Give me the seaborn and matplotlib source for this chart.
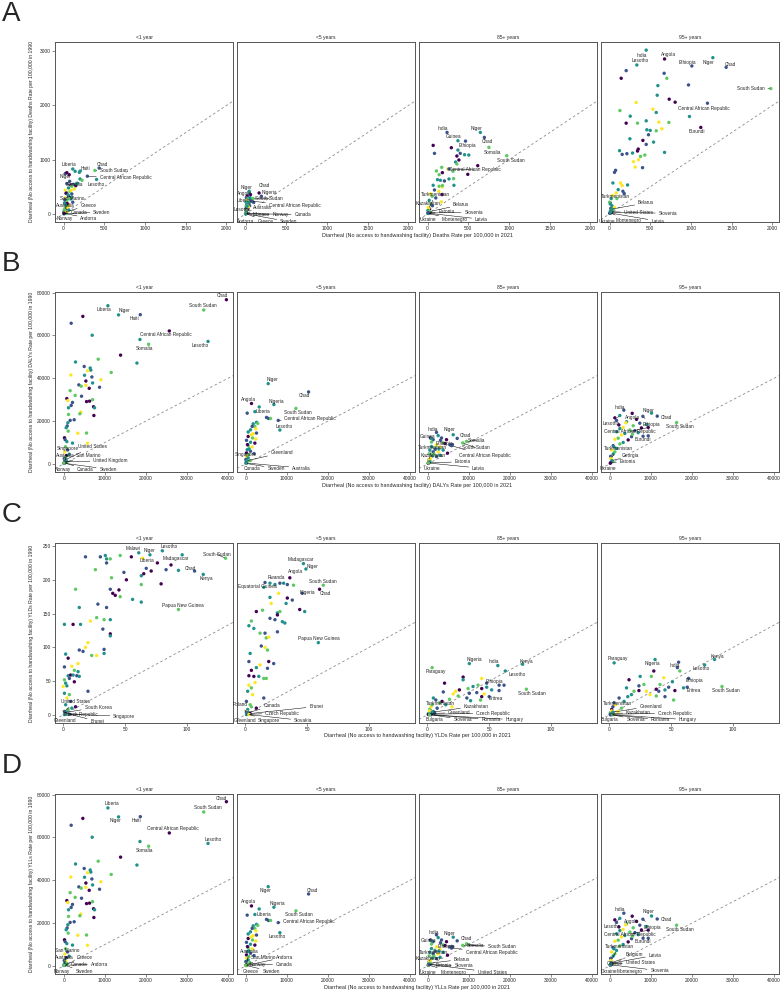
import numpy as np
import pandas as pd
import matplotlib
matplotlib.use('Agg')
import matplotlib.pyplot as plt
import seaborn as sns

ages = ["<1 year", "<5 years", "85+ years", "95+ years"]
measures = ["Deaths", "DALYs", "YLDs", "YLLs"]

# ---------------- A: deaths ----------------
a1_x = [20, 142, 194, 69, 202, 227, 170, 40, 89, 120, 101, 61, 130, 20, 81, 40, 101, 61, 20, 89,
        40, 113, 12, 61, 20, 150, 75, 30, 55, 90, 15, 45, 70, 100, 25, 35, 50, 10, 65, 20, 40, 5, 15, 30, 8, 3]
a1_y = [742, 785, 766, 723, 644, 619, 564, 558, 533, 545, 509, 478, 460, 435, 417, 386, 368, 325, 294, 276,
        245, 215, 202, 153, 110, 520, 600, 380, 350, 430, 260, 190, 280, 310, 160, 90, 120, 60, 70, 40, 30, 20, 12, 8, 5, 2]
a1_g = [1, 2, 2, 0, 2, 3, 2, 1, 0, 1, 3, 2, 4, 4, 3, 2, 1, 0, 4, 2,
        3, 1, 2, 4, 3, 0, 1, 0, 2, 4, 1, 0, 3, 2, 2, 1, 4, 3, 2, 1, 4, 2, 0, 3, 1, 2]
a1_lab = ["Chad", "Haiti", "Liberia", "South Sudan", "Central African Republic", "Niger", "Lesotho", "Somalia",
          "San Marino", "Australia", "Greece", "Canada", "Sweden", "Norway", "Andorra"]
a1_lx = [437, 205, 113, 385, 292, 40, 405, 160, 10, 6, 12, 4, 3, 2, 5]
a1_ly = [845, 790, 828, 800, 695, 760, 635, 560, 80, 40, 30, 12, 8, 5, 10]
a1_lg = [1, 2, 2, 3, 1, 0, 2, 2, 3, 2, 4, 1, 2, 3, 0]

a2_x = [45, 20, 10, 30, 60, 80, 15, 5, 25, 40, 12, 35, 50, 8, 18, 28, 3, 22, 14, 6, 2, 10, 4, 1, 70, 100, 55, 33]
a2_y = [380, 330, 300, 280, 260, 250, 240, 220, 200, 190, 170, 160, 150, 140, 120, 100, 90, 80, 60, 45,
        30, 25, 15, 8, 230, 210, 300, 130]
a2_g = [2, 0, 1, 3, 2, 1, 4, 2, 3, 0, 2, 4, 1, 3, 2, 4, 1, 0, 3, 2, 4, 1, 2, 0, 3, 1, 2, 4]
a2_lab = ["Niger", "Chad", "Angola", "Nigeria", "South Sudan", "Central African Republic", "Liberia", "Lesotho",
          "Australia", "Monaco", "Norway", "Canada", "Andorra", "Greece", "Sweden"]
a2_lx = [45, 166, 61, 194, 93, 73, 32, 20, 1, 2, 1, 2, 2, 1, 1]
a2_ly = [417, 386, 356, 325, 282, 233, 202, 141, 6, 4, 3, 5, 4, 8, 3]
a2_lg = [2, 0, 0, 1, 3, 1, 2, 2, 1, 2, 3, 0, 1, 4, 2]

a3_x = [69, 85, 292, 373, 401, 454, 506, 360, 385, 344, 360, 616, 174, 109, 182, 494, 142, 251, 312, 122,
        158, 263, 320, 207, 69, 142, 178, 182, 324, 85, 138, 178, 36, 57, 101, 170, 20, 40, 60, 10, 25, 5, 15, 30, 8]
a3_y = [1263, 1116, 1220, 1177, 1116, 1091, 1085, 1067, 993, 956, 920, 889, 858, 791, 760, 729, 723, 828, 785, 631,
        619, 644, 650, 607, 527, 509, 497, 521, 527, 441, 417, 356, 368, 325, 294, 221, 250, 180, 150, 120, 90, 60, 40, 20, 10]
a3_g = [0, 1, 0, 2, 1, 2, 2, 0, 0, 2, 3, 0, 3, 3, 0, 0, 3, 4, 3, 2,
        2, 2, 3, 1, 2, 3, 4, 3, 2, 1, 4, 0, 4, 3, 1, 4, 2, 3, 1, 4, 0, 2, 3, 1, 2]
a3_lab = ["India", "Niger", "Guinea", "Chad", "Ethiopia", "Somalia", "South Sudan", "Central African Republic",
          "Turkmenistan", "Kazakhstan", "Belarus", "Estonia", "Slovenia", "Ukraine", "Montenegro", "Latvia"]
a3_lx = [239, 648, 373, 697, 466, 753, 972, 263, 15, 8, 20, 10, 12, 5, 6, 9]
a3_ly = [1502, 1502, 1349, 1410, 1342, 1226, 1073, 828, 100, 60, 40, 20, 15, 10, 8, 12]
a3_lg = [1, 2, 2, 1, 1, 3, 3, 1, 4, 2, 3, 1, 2, 0, 3, 1]

a4_x = [204, 143, 670, 703, 593, 969, 585, 732, 805, 327, 127, 532, 573, 981, 254, 450, 343, 605, 728, 204,
        642, 458, 499, 573, 250, 478, 409, 540, 450, 352, 343, 123, 155, 213, 282, 675, 433, 380, 356, 294,
        315, 405, 74, 61, 41, 135, 155, 221, 106, 164, 180, 82, 37, 20, 90, 0, 30, 60, 15, 45, 10, 25, 5]
a4_y = [2642, 2501, 2593, 2501, 2366, 2378, 2188, 2115, 2060, 2054, 1906, 1931, 1870, 1796, 1802, 1716, 1673, 1692, 1686, 1673,
        1569, 1551, 1539, 1532, 1385, 1459, 1355, 1324, 1281, 1195, 1159, 1165, 1097, 1110, 1122, 1134, 1085, 1060, 999, 962,
        864, 852, 803, 766, 570, 570, 521, 533, 447, 417, 374, 386, 337, 282, 282, 215, 150, 120, 100, 70, 50, 30, 15]
a4_g = [1, 0, 1, 3, 2, 1, 2, 0, 0, 4, 3, 4, 2, 2, 2, 2, 3, 4, 3, 0,
        4, 2, 2, 3, 2, 1, 0, 2, 1, 0, 0, 2, 1, 1, 2, 2, 3, 3, 4, 4,
        4, 1, 1, 1, 2, 4, 4, 2, 2, 1, 1, 4, 4, 2, 3, 3, 2, 4, 1, 3, 2, 0, 2]
a4_lab = ["India", "Angola", "Lesotho", "Ethiopia", "Niger", "Chad", "South Sudan", "Central African Republic", "Burundi",
          "Turkmenistan", "Belarus", "United States", "Slovenia", "Ukraine", "Montenegro", "Latvia"]
a4_lx = [450, 675, 335, 1010, 1268, 1431, 1979, 1202, 1120, 10, 30, 20, 15, 5, 8, 12]
a4_ly = [3020, 2857, 2746, 2728, 2881, 2703, 2311, 2041, 1594, 180, 90, 40, 30, 10, 20, 15]
a4_lg = [2, 0, 2, 1, 2, 1, 3, 1, 0, 2, 2, 1, 3, 0, 1, 2]

# ---------------- B: DALYs ----------------
b1_x = [1790, 4630, 6910, 13820, 17800, 8370, 2850, 4960, 6420, 6580, 5770, 11540, 1710, 5040, 6830, 9020, 5370, 7000, 3660, 4230,
        5370, 8700, 6180, 1540, 2760, 4310, 7000, 730, 6260, 5530, 980, 2110, 1790, 7240, 7480, 1140, 4150, 3900, 7320, 1140,
        2520, 1540, 980, 810, 570, 3410, 5530, 1060, 160, 330, 730, 2110, 5770, 18540,
        400, 900, 200, 1300, 600, 300, 100, 500, 250, 800, 150, 50]
b1_y = [65700, 68900, 60100, 50800, 47100, 48900, 47600, 45500, 44800, 43800, 43500, 42700, 41500, 41400, 40600, 39300, 38700, 37800, 36900, 36300,
        36700, 35800, 35300, 34200, 32000, 31600, 30000, 30500, 29300, 29100, 29600, 28700, 27300, 26700, 26200, 26200, 24200, 23400, 22600, 23100,
        20600, 20300, 19200, 17700, 16900, 14300, 14400, 15300, 12200, 11300, 10400, 9700, 9600, 58100,
        8000, 6500, 5500, 4500, 3800, 3000, 2500, 2000, 1500, 1000, 700, 300]
b1_g = [1, 0, 2, 0, 2, 3, 2, 1, 2, 2, 4, 3, 4, 2, 1, 4, 0, 2, 1, 3,
        4, 1, 0, 3, 3, 1, 3, 0, 0, 0, 4, 1, 1, 0, 2, 2, 4, 3, 0, 3,
        1, 1, 2, 1, 2, 4, 3, 3, 0, 1, 2, 2, 4, 2,
        3, 1, 4, 2, 0, 3, 1, 4, 2, 3, 0, 1]
b1_lab = ["Chad", "South Sudan", "Liberia", "Niger", "Haiti", "Central African Republic", "Somalia", "Lesotho",
          "Singapore", "United States", "Australia", "San Marino", "United Kingdom", "Norway", "Canada", "Sweden"]
b1_lx = [39590, 34060, 10730, 13330, 18620, 25690, 20650, 35120, 300, 500, 200, 100, 400, 50, 150, 80]
b1_ly = [76700, 71900, 73900, 69600, 69700, 62100, 55900, 57200, 1200, 2000, 800, 500, 1000, 200, 400, 300]
b1_lg = [0, 3, 2, 2, 1, 0, 3, 2, 1, 2, 3, 4, 1, 2, 0, 3]

b2_x = [330, 3250, 5040, 5530, 6020, 2600, 2200, 1790, 1540, 2440, 1140, 570, 1790, 2600, 570, 1630, 2440, 160, 1140, 2200,
        570, 1540, 330, 1140, 160, 730, 160, 570, 0, 980, 2900, 1300, 400, 800, 2000, 250]
b2_y = [23700, 26600, 21700, 21200, 21200, 19400, 17500, 18700, 17500, 16400, 15900, 14900, 14100, 14400, 12800, 12100, 11600, 11000, 10100, 9700,
        8500, 7900, 6600, 5900, 5100, 4300, 3500, 2800, 2000, 1500, 18900, 13500, 9000, 7000, 4800, 1000]
b2_g = [1, 2, 1, 1, 3, 2, 3, 2, 1, 4, 2, 2, 4, 1, 0, 3, 4, 1, 2, 0,
        3, 4, 2, 1, 0, 3, 4, 2, 1, 3, 3, 4, 0, 2, 1, 3]
b2_lab = ["Niger", "Chad", "Angola", "Nigeria", "Liberia", "South Sudan", "Central African Republic", "Lesotho",
          "Singapore", "Greenland", "Canada", "Sweden", "Australia"]
b2_lx = [5450, 15280, 1380, 6830, 2200, 12200, 7890, 8290, 100, 300, 80, 50, 120]
b2_ly = [37500, 33600, 28200, 27700, 24400, 25900, 20300, 15800, 800, 1500, 300, 200, 400]
b2_lg = [2, 1, 0, 2, 2, 3, 1, 2, 1, 2, 0, 3, 2]

b3_x = [650, 1300, 2520, 3330, 3740, 4550, 5370, 2110, 890, 1710, 2930, 490, 1300, 2520, 3740, 330, 1140, 2110, 650, 1500,
        3000, 4200, 900, 250, 500, 100, 1800, 2700, 6000, 4800]
b3_y = [12100, 11300, 13200, 12100, 9800, 11300, 8900, 8900, 8100, 7300, 7800, 6400, 5600, 5600, 6400, 4700, 3700, 3400, 2500, 4500,
        4000, 9500, 10200, 1800, 1200, 600, 6800, 7000, 9000, 5000]
b3_g = [0, 1, 2, 1, 3, 0, 1, 4, 2, 3, 4, 2, 1, 4, 2, 3, 2, 1, 4, 3,
        2, 0, 3, 1, 2, 4, 1, 2, 1, 0]
b3_lab = ["India", "Niger", "Chad", "Guinea", "Ethiopia", "Somalia", "South Sudan", "Central African Republic",
          "Turkmenistan", "Kazakhstan", "Estonia", "Ukraine", "Latvia"]
b3_lx = [2110, 6180, 7150, 890, 3090, 9430, 8500, 5770, 300, 400, 200, 100, 150]
b3_ly = [14700, 13600, 11900, 11900, 11000, 10500, 9800, 8500, 1800, 1000, 500, 300, 400]
b3_lg = [1, 2, 1, 2, 1, 3, 3, 1, 4, 2, 1, 0, 3]

b4_x = [1220, 1630, 4070, 6500, 7300, 8940, 5700, 3250, 2440, 4880, 6100, 7700, 3660, 2850, 5290, 1630, 2030, 4470, 3250, 1220,
        2440, 810, 1630, 410, 1220, 810, 200, 400, 6900, 8100, 5500, 3900, 2200, 1000, 600]
b4_y = [21500, 20300, 19700, 20800, 19000, 18400, 17800, 17000, 16500, 15800, 15500, 16800, 14200, 13500, 12700, 15000, 12000, 11200, 10000, 11500,
        9300, 8500, 7200, 6500, 5600, 4600, 3500, 2000, 14600, 12900, 13800, 19200, 18200, 8000, 1000]
b4_g = [0, 1, 2, 0, 1, 2, 3, 4, 2, 3, 1, 0, 2, 4, 1, 2, 3, 0, 2, 4,
        3, 1, 2, 4, 3, 2, 1, 4, 2, 1, 3, 4, 0, 2, 3]
b4_lab = ["India", "Niger", "Chad", "Angola", "Ethiopia", "Lesotho", "South Sudan", "Central African Republic", "Burundi",
          "Turkmenistan", "Georgia", "Estonia", "Ukraine"]
b4_lx = [3410, 10160, 11540, 5450, 8050, 2440, 16260, 9350, 9350, 300, 500, 200, 100]
b4_ly = [25100, 23700, 22300, 23600, 22200, 22600, 19300, 17000, 13100, 2500, 1500, 600, 300]
b4_lg = [1, 2, 1, 0, 1, 2, 3, 0, 1, 4, 2, 1, 0]

# ---------------- C: YLDs ----------------
c1_x = [18, 30, 34, 35, 38, 46, 55, 35, 26, 39, 49, 51, 63, 63, 65, 67, 71, 76, 83, 87,
        93, 79, 10, 38, 40, 42, 45, 46, 56, 63, 28, 35, 13, 1, 8, 14, 22, 27, 33, 38,
        32, 38, 38, 20, 18, 13, 16, 33, 33, 23, 27, 2, 4, 1, 7, 12, 9, 12, 4, 6,
        8, 11, 13, 1, 5, 9, 2, 0, 3, 20, 1, 5, 3, 6, 2, 10, 4, 1, 7, 2]
c1_y = [234, 234, 236, 231, 231, 236, 234, 225, 215, 203, 211, 200, 193, 206, 209, 217, 213, 225, 215, 222,
        214, 194, 186, 186, 180, 177, 185, 175, 171, 167, 164, 159, 159, 134, 134, 134, 139, 144, 141, 141,
        127, 120, 117, 107, 100, 96, 94, 97, 91, 88, 88, 90, 84, 71, 72, 76, 66, 64, 58, 59,
        59, 58, 57, 52, 54, 49, 47, 42, 43, 35, 32, 30, 25, 20, 15, 12, 8, 5, 10, 3]
c1_g = [1, 1, 2, 2, 3, 3, 0, 1, 3, 3, 1, 0, 3, 2, 0, 1, 0, 0, 1, 0,
        2, 0, 3, 1, 0, 0, 0, 3, 2, 2, 1, 1, 2, 2, 0, 2, 4, 3, 3, 2,
        1, 0, 2, 4, 4, 1, 1, 1, 2, 3, 4, 2, 0, 1, 4, 4, 3, 2, 2, 0,
        2, 1, 2, 3, 1, 0, 2, 4, 2, 1, 2, 3, 4, 1, 2, 0, 3, 4, 2, 1]
c1_lab = ["South Sudan", "Lesotho", "Malawi", "Niger", "Liberia", "Madagascar", "Chad", "Kenya", "Papua New Guinea",
          "United States", "South Korea", "Czech Republic", "Singapore", "Greenland", "Brunei"]
c1_lx = [131, 80, 61, 70, 64, 96, 106, 113, 93, 1, 3, 2, 4, 1, 5]
c1_ly = [232, 243, 240, 237, 232, 237, 213, 208, 156, 5, 4, 2, 1, 0.5, 1]
c1_lg = [3, 2, 2, 2, 4, 2, 1, 2, 3, 1, 2, 0, 3, 2, 1]

c2_x = [16, 20, 24, 28, 34, 39, 27, 34, 38, 33, 20, 21, 44, 48, 14, 9, 26, 28, 24, 20,
        30, 32, 26, 5, 3, 7, 12, 16, 17, 19, 26, 13, 16, 18, 4, 19, 23, 3, 12, 9,
        18, 5, 7, 3, 11, 15, 17, 8, 3, 5, 15, 2, 6, 1, 4, 9, 2, 1, 3, 5]
c2_y = [196, 195, 193, 195, 193, 192, 180, 173, 170, 165, 174, 165, 156, 153, 155, 153, 151, 153, 141, 143,
        138, 136, 148, 139, 132, 128, 121, 121, 114, 115, 123, 102, 100, 96, 91, 79, 76, 79, 74, 70,
        69, 66, 57, 58, 57, 54, 54, 48, 44, 40, 25, 35, 30, 20, 15, 10, 8, 5, 3, 12]
c2_g = [1, 2, 2, 1, 1, 3, 4, 0, 1, 2, 2, 4, 0, 2, 3, 0, 2, 3, 1, 1,
        2, 2, 0, 3, 2, 2, 3, 1, 3, 4, 1, 1, 4, 3, 2, 0, 1, 1, 4, 2,
        1, 0, 0, 0, 2, 3, 3, 4, 4, 3, 1, 2, 4, 1, 3, 0, 2, 4, 1, 3]
c2_lab = ["Madagascar", "Niger", "Angola", "Rwanda", "Equatorial Guinea", "South Sudan", "Nigeria", "Chad",
          "Papua New Guinea", "Poland", "Canada", "Brunei", "Czech Republic", "Greenland", "Singapore", "Slovakia"]
c2_lx = [47, 49, 36, 31, 15, 63, 46, 60, 59, 1, 2, 4, 3, 1, 2, 3]
c2_ly = [224, 216, 203, 195, 189, 192, 180, 186, 107, 4, 3, 2, 1, 0.5, 1, 0.5]
c2_lg = [2, 2, 0, 2, 2, 3, 1, 0, 2, 1, 2, 0, 3, 2, 1, 4]

c3_x = [29, 29, 14, 13, 21, 26, 33, 37, 41, 44, 44, 48, 52, 58, 58, 62, 40, 44, 46, 34,
        32, 35, 43, 18, 23, 5, 7, 10, 15, 3, 8, 2, 5, 12, 25, 20, 6, 1, 4]
c3_y = [56, 52, 47, 34, 31, 37, 39, 42, 44, 54, 39, 41, 37, 36, 44, 44, 33, 27, 31, 32,
        25, 21, 22, 23, 35, 25, 22, 18, 15, 12, 10, 8, 5, 20, 28, 12, 3, 2, 15]
c3_g = [0, 2, 0, 1, 4, 0, 3, 2, 3, 4, 0, 2, 2, 1, 1, 1, 1, 0, 4, 1,
        1, 2, 3, 3, 4, 2, 1, 3, 2, 4, 1, 3, 2, 0, 3, 4, 1, 2, 3]
c3_lab = ["Nigeria", "India", "Kenya", "Paraguay", "Lesotho", "Ethiopia", "South Sudan", "Eritrea",
          "Turkmenistan", "Kazakhstan", "Greenland", "Czech Republic", "Bulgaria", "Slovenia", "Romania", "Hungary"]
c3_lx = [34, 57, 77, 4, 63, 48, 80, 50, 2, 4, 1, 3, 1, 2, 3, 2]
c3_ly = [76, 73, 75, 70, 65, 47, 38, 27, 6, 4, 2, 1, 0.5, 0.5, 0.3, 0.2]
c3_lg = [2, 2, 2, 3, 2, 1, 3, 1, 4, 2, 3, 1, 0, 2, 1, 3]

c4_x = [36, 55, 57, 16, 25, 34, 24, 24, 30, 38, 40, 41, 45, 48, 51, 53, 52, 45, 20, 15,
        8, 33, 60, 28, 12, 5, 3, 10, 18, 2, 7, 1, 4, 14, 44, 38]
c4_y = [65, 70, 65, 52, 57, 57, 43, 36, 35, 38, 35, 45, 37, 41, 49, 36, 22, 27, 35, 27,
        25, 30, 40, 45, 20, 15, 12, 10, 30, 8, 5, 3, 18, 40, 55, 28]
c4_g = [0, 1, 3, 0, 2, 3, 1, 0, 4, 0, 1, 3, 2, 1, 2, 0, 3, 1, 3, 2,
        1, 4, 2, 3, 2, 4, 1, 3, 2, 0, 4, 2, 1, 2, 4, 3]
c4_lab = ["Paraguay", "Nigeria", "India", "Kenya", "Lesotho", "Ethiopia", "Eritrea", "South Sudan",
          "Turkmenistan", "Greenland", "Kazakhstan", "Czech Republic", "Bulgaria", "Slovenia", "Romania", "Hungary"]
c4_lx = [4, 37, 56, 85, 77, 64, 63, 91, 2, 3, 1, 2, 1, 2, 1, 3]
c4_ly = [77, 82, 78, 82, 74, 54, 41, 42, 6, 4, 2, 1, 0.5, 0.4, 0.3, 0.2]
c4_lg = [2, 2, 1, 2, 2, 1, 1, 3, 4, 2, 3, 1, 0, 2, 1, 3]

d1_x, d1_y, d1_g = b1_x, b1_y, b1_g
d1_lab = ["Chad", "South Sudan", "Liberia", "Niger", "Haiti", "Central African Republic", "Lesotho", "Somalia",
          "San Marino", "Australia", "Greece", "Canada", "Andorra", "Norway", "Sweden"]
d1_lx = [39590, 34060, 10730, 13330, 18620, 25690, 35120, 20650, 100, 200, 250, 150, 120, 50, 80]
d1_ly = [76700, 71900, 73800, 69600, 69700, 62100, 57200, 55900, 500, 800, 600, 400, 300, 200, 300]
d1_lg = [0, 3, 2, 2, 1, 0, 2, 3, 4, 3, 2, 0, 1, 2, 3]

d2_x, d2_y, d2_g = b2_x, b2_y, b2_g
d2_lab = ["Niger", "Chad", "Angola", "Nigeria", "Liberia", "South Sudan", "Central African Republic", "Lesotho",
          "Australia", "San Marino", "Andorra", "Norway", "Canada", "Greece", "Sweden"]
d2_lx = [5450, 15280, 1380, 6830, 2200, 12200, 7890, 8290, 120, 80, 100, 60, 80, 50, 50]
d2_ly = [37000, 33600, 28000, 27400, 24000, 25700, 20200, 15500, 400, 300, 250, 200, 300, 150, 200]
d2_lg = [2, 1, 0, 2, 2, 3, 1, 2, 2, 3, 1, 2, 0, 4, 3]

d3_x, d3_y, d3_g = b3_x, b3_y, b3_g
d3_lab = ["India", "Niger", "Chad", "Guinea", "Ethiopia", "Somalia", "South Sudan", "Central African Republic",
          "Turkmenistan", "Kazakhstan", "Belarus", "Estonia", "Slovenia", "Ukraine", "Montenegro", "United States"]
d3_lx = [2110, 6180, 7150, 890, 3090, 9430, 8500, 5770, 300, 400, 500, 200, 250, 100, 150, 300]
d3_ly = [14500, 13400, 11700, 11700, 10800, 10300, 9600, 8300, 1800, 1000, 1200, 500, 600, 300, 350, 700]
d3_lg = [1, 2, 1, 2, 1, 3, 3, 1, 4, 2, 3, 1, 2, 0, 3, 1]

d4_x, d4_y, d4_g = b4_x, b4_y, b4_g
d4_lab = ["India", "Niger", "Chad", "Angola", "Lesotho", "Ethiopia", "South Sudan", "Central African Republic", "Burundi",
          "Turkmenistan", "Belgium", "Latvia", "Greece", "United States", "Ukraine", "Montenegro", "Slovenia"]
d4_lx = [3410, 10160, 11540, 5450, 2440, 8050, 16260, 9350, 9350, 300, 400, 300, 200, 350, 100, 150, 200]
d4_ly = [24600, 23300, 21900, 23200, 22200, 21800, 19000, 16700, 12900, 2500, 1500, 1200, 800, 900, 300, 400, 500]
d4_lg = [1, 2, 1, 0, 2, 1, 3, 0, 1, 4, 2, 1, 3, 1, 0, 3, 2]

x_ticks = {"A": [0, 500, 1000, 1500, 2000], "B": [0, 10000, 20000, 30000, 40000],
           "C": [0, 50, 100], "D": [0, 10000, 20000, 30000, 40000]}
y_ticks = {"A": [0, 1000, 2000, 3000], "B": [0, 20000, 40000, 60000, 80000],
           "C": [0, 50, 100, 150, 200, 250], "D": [0, 20000, 40000, 60000, 80000]}

# ---------------- layout (label offsets in pixels, axis limits) ----------------
label_offsets = {
    "a1": [(3, 4), (5, 3), (-4, 4), (19, 0), (38, -1), (-1, -4), (0, -5), (-2, -1),
           (8, 11), (1, 6), (24, 7), (15, 1), (38, 1), (1, -5), (25, -5)],
    "a2": [(-3, 4), (5, 7), (-6, 1), (8, 4), (16, 0), (43, -4), (-4, 2), (-5, -3),
           (17, 6), (15, -1), (35, -1), (57, -1), (0, -8), (20, -8), (43, -8)],
    "a3": [(-4, 4), (-4, 4), (-4, 4), (3, -4), (2, -4), (4, -5), (4, -5), (26, -1),
           (7, 14), (0, 7), (32, 7), (18, 1), (45, 1), (0, -6), (27, -6), (53, -6)],
    "a4": [(-4, -5), (4, 4), (3, 4), (-4, 3), (-4, -5), (4, 3), (-20, 0), (-4, -5), (-4, -4),
           (5, 8), (34, 6), (27, -1), (57, -1), (-3, -8), (18, -8), (47, -8)],
    "b1": [(-4, 4), (-1, 4), (-4, -4), (6, 4), (-6, -4), (-4, -4), (-4, -4), (-8, -4),
           (3, 13), (27, 13), (1, 7), (24, 7), (45, 1), (-1, -6), (21, -6), (44, -6)],
    "b2": [(4, 4), (-4, -4), (-3, 4), (3, 3), (8, 0), (2, -4), (32, 2), (4, 4),
           (0, 8), (35, 8), (6, -5), (30, -5), (55, -5)],
    "b3": [(-4, 3), (-4, 5), (8, 3), (-4, 2), (4, -3), (10, 1), (13, -5), (33, -10),
           (3, 13), (4, 6), (34, 1), (4, -5), (50, -5)],
    "b4": [(-4, 3), (-3, 3), (9, -1), (0, -4), (8, -8), (-9, -8), (3, -4), (-18, -4), (-5, -4),
           (7, 10), (19, 5), (17, 1), (-2, -5)],
    "c1": [(-9, 4), (7, 4), (-6, 4), (0, 4), (4, -2), (-6, -4), (-4, 3), (3, -4), (4, 4),
           (11, 10), (31, 5), (15, -1), (56, -2), (1, -6), (28, -7)],
    "c2": [(-3, 4), (7, 3), (6, 6), (-7, 6), (-6, 1), (0, 4), (5, 1), (6, -4), (0, 4),
           (-6, 8), (24, 7), (66, 7), (33, 1), (-1, -6), (21, -6), (54, -6)],
    "c3": [(5, 4), (-4, 4), (4, 3), (4, -4), (12, -4), (8, 2), (5, -4), (7, -2),
           (11, 7), (44, 6), (31, 1), (62, 1), (6, -5), (33, -5), (60, -5), (85, -5)],
    "c4": [(4, 4), (-3, -4), (-4, -3), (3, 3), (-3, -4), (6, -2), (6, -3), (4, -4),
           (6, 7), (38, 6), (28, 1), (63, 1), (-1, -5), (24, -5), (50, -5), (75, -5)],
    "d1": [(-5, 3), (4, 4), (4, 4), (-3, -4), (-4, -4), (3, 4), (5, 4), (-4, -4),
           (3, 14), (0, 7), (20, 7), (15, 1), (35, 1), (-2, -6), (20, -6)],
    "d2": [(-3, -4), (4, 3), (-3, 4), (4, 4), (9, 0), (3, -4), (31, 1), (-3, -4),
           (3, 14), (17, 8), (38, 8), (12, 1), (38, 1), (5, -6), (25, -6)],
    "d3": [(-3, 2), (-4, 4), (9, 2), (-3, 0), (6, -4), (9, -2), (39, -1), (40, -4),
           (4, 10), (-1, 5), (32, 4), (15, -1), (35, -1), (0, -7), (25, -7), (63, -8)],
    "d4": [(-4, 4), (-3, 4), (9, -1), (-1, -5), (-8, -8), (9, -8), (3, -4), (-18, -4), (-5, -3),
           (8, 14), (23, 8), (44, 8), (4, 1), (29, 1), (-1, -6), (19, -6), (49, -6)],
}
x_lims = {"A": (-105, 2080), "B": (-2150, 41200), "C": (-6.6, 137), "D": (-2150, 41200)}
y_lims = {"A": (-150, 3170), "B": (-3800, 80300), "C": (-12, 254.5), "D": (-3800, 80300)}
row_tops = {"A": 42, "B": 292, "C": 543, "D": 794}

panels = {
    "A": [("a1", a1_x, a1_y, a1_g, a1_lab, a1_lx, a1_ly, a1_lg),
          ("a2", a2_x, a2_y, a2_g, a2_lab, a2_lx, a2_ly, a2_lg),
          ("a3", a3_x, a3_y, a3_g, a3_lab, a3_lx, a3_ly, a3_lg),
          ("a4", a4_x, a4_y, a4_g, a4_lab, a4_lx, a4_ly, a4_lg)],
    "B": [("b1", b1_x, b1_y, b1_g, b1_lab, b1_lx, b1_ly, b1_lg),
          ("b2", b2_x, b2_y, b2_g, b2_lab, b2_lx, b2_ly, b2_lg),
          ("b3", b3_x, b3_y, b3_g, b3_lab, b3_lx, b3_ly, b3_lg),
          ("b4", b4_x, b4_y, b4_g, b4_lab, b4_lx, b4_ly, b4_lg)],
    "C": [("c1", c1_x, c1_y, c1_g, c1_lab, c1_lx, c1_ly, c1_lg),
          ("c2", c2_x, c2_y, c2_g, c2_lab, c2_lx, c2_ly, c2_lg),
          ("c3", c3_x, c3_y, c3_g, c3_lab, c3_lx, c3_ly, c3_lg),
          ("c4", c4_x, c4_y, c4_g, c4_lab, c4_lx, c4_ly, c4_lg)],
    "D": [("d1", d1_x, d1_y, d1_g, d1_lab, d1_lx, d1_ly, d1_lg),
          ("d2", d2_x, d2_y, d2_g, d2_lab, d2_lx, d2_ly, d2_lg),
          ("d3", d3_x, d3_y, d3_g, d3_lab, d3_lx, d3_ly, d3_lg),
          ("d4", d4_x, d4_y, d4_g, d4_lab, d4_lx, d4_ly, d4_lg)],
}

sns.set_style("white")
plt.rcParams['font.family'] = ['Liberation Sans', 'DejaVu Sans']

palette = {0: '#440154', 1: '#3b528b', 2: '#21918c', 3: '#5ec962', 4: '#fde725'}
W, H = 784, 992
fig = plt.figure(figsize=(W / 100, H / 100), dpi=100)

for r, (row, measure) in enumerate(zip(["A", "B", "C", "D"], measures)):
    top = row_tops[row]
    for c, (key, px, py, pg, lab, lx, ly, lg) in enumerate(panels[row]):
        ax = fig.add_axes([(55 + 182 * c) / W, 1 - (top + 180) / H, 178 / W, 180 / H])
        df = pd.DataFrame({"x": list(px) + list(lx), "y": list(py) + list(ly), "g": list(pg) + list(lg)})
        ax.axline((0, 0), slope=1, color='#8a8a8a', ls=(0, (3, 3)), lw=0.6, zorder=1)
        sns.scatterplot(data=df, x="x", y="y", hue="g", palette=palette, s=6, linewidth=0,
                        legend=False, ax=ax, zorder=3)
        for name, vx, vy, (dx, dy) in zip(lab, lx, ly, label_offsets[key]):
            far = np.hypot(dx, dy) > 9
            ax.annotate(name, (vx, vy), xytext=(dx, dy), textcoords='offset pixels',
                        ha='center', va='center', fontsize=3.4, zorder=4,
                        arrowprops=dict(arrowstyle='-', lw=0.35, color='black',
                                        shrinkA=0, shrinkB=1) if far else None)
        ax.set_xlim(*x_lims[row])
        ax.set_ylim(*y_lims[row])
        ax.set_xticks(x_ticks[row])
        ax.set_yticks(y_ticks[row])
        ax.set_xlabel("")
        ax.set_ylabel("")
        ax.set_title(ages[c], fontsize=3.6, pad=2)
        ax.tick_params(axis='both', length=2, width=0.4, pad=1, labelsize=3.5, color='#333333',
                       bottom=True, left=(c == 0), labelleft=(c == 0))
        for s in ax.spines.values():
            s.set_color('#555555')
            s.set_linewidth(0.7)

    fig.text(2 / W, 1 - (top - 28) / H, row, fontsize=20, va='center', ha='left')
    fig.text(417 / W, 1 - (top + 193) / H,
             f"Diarrheal (No access to handwashing facility) {measure} Rate per 100,000 in 2021",
             fontsize=3.9, ha='center', va='center')
    fig.text(32 / W, 1 - (top + 90) / H,
             f"Diarrheal (No access to handwashing facility) {measure} Rate per 100,000 in 1990",
             fontsize=3.7, ha='center', va='center', rotation=90)

fig.savefig("out.png", dpi=100)
plt.close(fig)
